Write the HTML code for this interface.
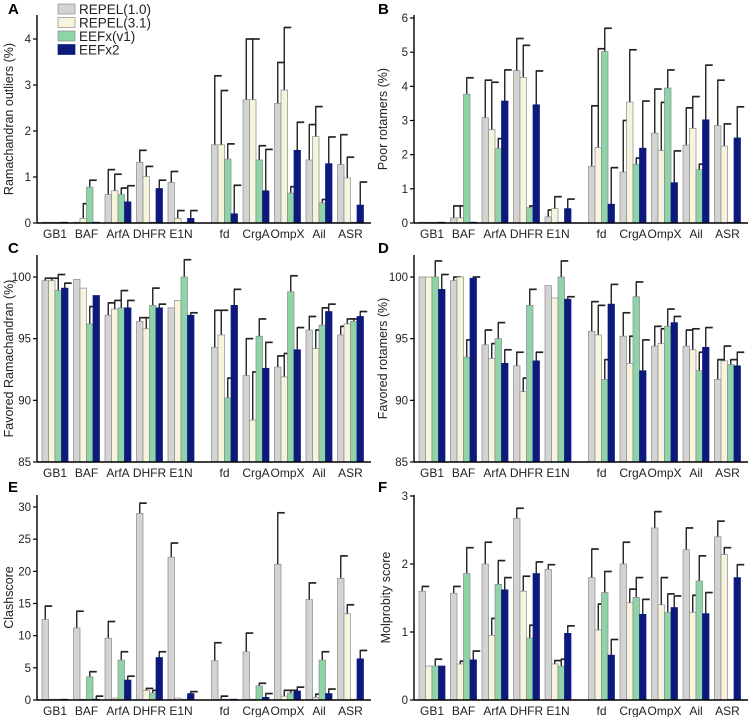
<!DOCTYPE html>
<html><head><meta charset="utf-8"><style>
html,body{margin:0;padding:0;background:#fff;}
svg{display:block;font-family:"Liberation Sans",Arial,sans-serif;}
</style></head><body>
<svg id="chart" width="750" height="717" viewBox="0 0 750 717"></svg>
<script>
const categories = ["GB1","BAF","ArfA","DHFR","E1N","fd","CrgA","OmpX","Ail","ASR"];
const seriesNames = ["REPEL(1.0)","REPEL(3.1)","EEFx(v1)","EEFx2"];
const seriesColors = ["#d3d3d3","#f6f4dc","#8fd3a9","#0d1a7c"];

// Panel A: Ramachandran outliers
const A_rep10 = [0,0,0.62,1.32,0.88,1.7,2.68,2.6,1.37,1.27];
const A_rep10_err = [0,0,1.16,1.58,1.12,3.2,4.0,3.49,2.14,1.92];
const A_rep31 = [0,0.1,0.7,1.01,0.1,1.7,2.68,2.89,1.88,0.98];
const A_rep31_err = [0,0.42,1.06,1.23,0.27,2.88,4.0,4.25,2.53,1.43];
const A_eefx1 = [0,0.78,0.62,0,0,1.39,1.37,0.65,0.44,0];
const A_eefx1_err = [0,0.93,0.76,0,0,1.72,1.68,0.79,0.51,0];
const A_eefx2 = [0,0,0.46,0.75,0.1,0.2,0.7,1.58,1.29,0.39];
const A_eefx2_err = [0,0,0.81,0.93,0.27,0.82,1.6,2.19,1.87,0.89];
const A_ticks = [0,1,2,3,4];

// Panel B: Poor rotamers
const B_rep10 = [0,0.15,3.08,4.46,0.18,1.66,1.49,2.63,2.28,2.85];
const B_rep10_err = [0,0.5,4.18,5.4,0.38,3.43,3.0,3.92,3.37,4.18];
const B_rep31 = [0,0.15,2.73,4.26,0.42,2.21,3.54,2.12,2.77,2.25];
const B_rep31_err = [0,0.5,4.12,5.2,0.77,5.1,5.07,3.53,3.7,2.9];
const B_eefx1 = [0,3.77,2.18,0.45,0,5.02,1.72,3.95,1.56,0];
const B_eefx1_err = [0,4.25,2.47,0.5,0,5.7,1.9,4.48,1.72,0];
const B_eefx2 = [0,0,3.57,3.46,0.42,0.55,2.19,1.18,3.02,2.49];
const B_eefx2_err = [0,0,4.48,4.45,0.7,1.62,3.57,2.11,4.62,3.4];
const B_ticks = [0,1,2,3,4,5,6];

// Panel C: Favored Ramachandran
const C_rep10 = [99.7,99.8,96.9,96.4,97.5,94.3,92.0,92.7,95.7,95.3];
const C_rep10_err = [99.9,99.8,97.9,96.7,97.5,97.3,95.0,93.6,96.8,96.0];
const C_rep31 = [99.7,99.1,97.4,95.8,98.1,95.3,88.4,91.9,94.2,96.2];
const C_rep31_err = [99.9,99.1,98.1,96.7,98.1,97.3,92.3,93.8,95.7,96.6];
const C_eefx1 = [98.9,96.2,97.5,97.7,100,90.2,95.2,98.8,96.1,96.4];
const C_eefx1_err = [100.2,97.6,98.9,99.1,101.4,91.8,96.6,100.1,97.5,96.6];
const C_eefx2 = [99.1,98.5,97.5,97.5,96.9,97.7,92.6,94.1,97.2,96.8];
const C_eefx2_err = [99.5,98.5,98.1,97.8,97.1,99.0,94.7,95.9,97.8,97.2];
const C_ticks = [85,90,95,100];

// Panel D: Favored rotamers
const D_rep10 = [100,99.7,94.5,92.8,99.3,95.6,95.2,94.4,94.4,91.7];
const D_rep10_err = [100,100,95.7,93.9,99.3,98.0,97.1,96.0,95.7,93.3];
const D_rep31 = [100,100,93.4,90.7,98.3,95.3,93.0,94.6,94.1,93.2];
const D_rep31_err = [100,100,94.6,91.8,98.3,97.7,95.2,95.8,95.8,94.4];
const D_eefx1 = [100,93.5,95.0,97.7,100,91.7,98.4,96.0,92.4,92.9];
const D_eefx1_err = [101.3,94.9,96.3,99.0,101.3,93.3,99.6,97.4,93.9,93.3];
const D_eefx2 = [99.0,99.9,93.0,93.2,98.2,97.8,92.4,96.3,94.3,92.8];
const D_eefx2_err = [100.2,100,94.1,93.9,98.4,99.4,94.9,96.8,95.9,93.9];
const D_ticks = [85,90,95,100];

// Panel E: Clashscore
const E_rep10 = [12.5,11.2,9.6,29.0,22.2,6.1,7.5,21.1,15.6,18.9];
const E_rep10_err = [14.6,13.8,12.2,30.6,24.4,8.9,10.4,29.1,18.2,22.4];
const E_rep31 = [0.1,0.1,0.3,1.5,0.3,0.1,0.1,0.6,0.4,13.4];
const E_rep31_err = [0.1,0.1,0.3,1.8,0.3,0.6,0.1,1.5,0.9,14.8];
const E_eefx1 = [0.1,3.6,6.2,1.1,0.1,0.1,2.2,1.1,6.2,0];
const E_eefx1_err = [0.1,4.4,7.5,1.5,0.1,0.1,2.6,1.5,7.5,0];
const E_eefx2 = [0.1,0.1,3.1,6.6,1.0,0.1,0.4,1.4,1.0,6.4];
const E_eefx2_err = [0.1,0.6,3.7,7.5,1.3,0.1,1.0,2.0,1.7,7.7];
const E_ticks = [0,5,10,15,20,25,30];

// Panel F: Molprobity score
const F_rep10 = [1.6,1.57,2.0,2.67,1.92,1.8,2.0,2.53,2.21,2.4];
const F_rep10_err = [1.67,1.67,2.32,2.82,1.99,2.22,2.32,2.77,2.53,2.63];
const F_rep31 = [0.5,0.53,0.95,1.6,0.53,1.03,1.43,1.4,1.29,2.14];
const F_rep31_err = [0.5,0.57,1.2,1.82,0.58,1.41,1.63,1.8,1.54,2.24];
const F_eefx1 = [0.5,1.86,1.7,0.91,0.5,1.58,1.51,1.29,1.75,0];
const F_eefx1_err = [0.6,2.24,2.05,1.1,0.6,1.89,1.8,1.56,2.12,0];
const F_eefx2 = [0.5,0.59,1.62,1.86,0.98,0.66,1.26,1.36,1.27,1.8];
const F_eefx2_err = [0.5,0.72,1.8,2.03,1.09,0.89,1.48,1.53,1.58,1.99];
const F_ticks = [0,1,2,3];

const NS="http://www.w3.org/2000/svg";
const svg=document.getElementById('chart');
function mk(tag,attrs,parent,text){const e=document.createElementNS(NS,tag);for(const k in attrs)e.setAttribute(k,attrs[k]);if(text!==undefined)e.textContent=text;(parent||svg).appendChild(e);return e;}

const panels=[
 {id:"a",letter:"A",lx:8,ly:14,x0:37,yBot:223,yTopTick:39,dMin:0,dMax:4,axTop:15,ticks:A_ticks,title:"Ramachandran outliers (%)",tx:13,vals:[A_rep10,A_rep31,A_eefx1,A_eefx2],errs:[A_rep10_err,A_rep31_err,A_eefx1_err,A_eefx2_err]},
 {id:"b",letter:"B",lx:378,ly:14,x0:414,yBot:223,yTopTick:18,dMin:0,dMax:6,axTop:15,ticks:B_ticks,title:"Poor rotamers (%)",tx:387,vals:[B_rep10,B_rep31,B_eefx1,B_eefx2],errs:[B_rep10_err,B_rep31_err,B_eefx1_err,B_eefx2_err]},
 {id:"c",letter:"C",lx:8,ly:253,x0:37,yBot:462,yTopTick:277,dMin:85,dMax:100,axTop:255,ticks:C_ticks,title:"Favored Ramachandran (%)",tx:13,vals:[C_rep10,C_rep31,C_eefx1,C_eefx2],errs:[C_rep10_err,C_rep31_err,C_eefx1_err,C_eefx2_err]},
 {id:"d",letter:"D",lx:378,ly:253,x0:414,yBot:462,yTopTick:277,dMin:85,dMax:100,axTop:255,ticks:D_ticks,title:"Favored rotamers (%)",tx:387,vals:[D_rep10,D_rep31,D_eefx1,D_eefx2],errs:[D_rep10_err,D_rep31_err,D_eefx1_err,D_eefx2_err]},
 {id:"e",letter:"E",lx:8,ly:492,x0:37,yBot:700,yTopTick:507,dMin:0,dMax:30,axTop:495,ticks:E_ticks,title:"Clashscore",tx:13,vals:[E_rep10,E_rep31,E_eefx1,E_eefx2],errs:[E_rep10_err,E_rep31_err,E_eefx1_err,E_eefx2_err]},
 {id:"f",letter:"F",lx:378,ly:492,x0:414,yBot:700,yTopTick:496,dMin:0,dMax:3,axTop:495,ticks:F_ticks,title:"Molprobity score",tx:390,vals:[F_rep10,F_rep31,F_eefx1,F_eefx2],errs:[F_rep10_err,F_rep31_err,F_eefx1_err,F_eefx2_err]}
];

panels.forEach(p=>{
 const g=mk('g',{});
 
 
 const y=v=>p.yBot-(v-p.dMin)*(p.yBot-p.yTopTick)/(p.dMax-p.dMin);
 const xc=i=>p.x0+18+i*31.5+(i>=5?12:0);
 const bw=6.5;
 const lt=mk('text',{x:p.lx,y:p.ly,'font-size':15,'font-weight':'bold',fill:'#000'},g,p.letter);
 
 
 for(let s=0;s<4;s++){
  for(let i=0;i<categories.length;i++){
   const v=p.vals[s][i], e=p.errs[s][i];
   const bx=xc(i)-13+s*bw;
   const top=y(v);
   if(e>v){
    const ln=mk('line',{x1:bx+bw/2,x2:bx+bw/2,y1:top,y2:y(e),stroke:'#222','stroke-width':1.4},g);
    
    
    const cap=mk('line',{x1:bx+bw/2-0.5,x2:bx+bw/2+7,y1:y(e),y2:y(e),stroke:'#222','stroke-width':1.7},g);
    
    
   }
   const r=mk('rect',{x:bx,y:Math.min(top,p.yBot-0.8),width:bw,height:Math.max(p.yBot-top,0.8),fill:seriesColors[s],stroke:s==3?'#0d1a7c':'#8a8a8a','stroke-width':0.7},g);
   
   
  }
 }
 const ya=mk('line',{x1:p.x0,x2:p.x0,y1:p.axTop,y2:p.yBot,stroke:'#000','stroke-width':1.4},g);
 
 
 const xa=mk('line',{x1:p.x0,x2:p.x0+334,y1:p.yBot,y2:p.yBot,stroke:'#000','stroke-width':1.4},g);
 
 
 p.ticks.forEach(t=>{
  const tk=mk('line',{x1:p.x0-4,x2:p.x0,y1:y(t),y2:y(t),stroke:'#000','stroke-width':1.2},g);
  
  
  const tl=mk('text',{x:p.x0-6,y:y(t)+4,'font-size':11.5,'text-anchor':'end',fill:'#222'},g,String(t));
  
  
 });
 categories.forEach((c,i)=>{
  const xl=mk('text',{x:xc(i),y:p.yBot+15,'font-size':12,'text-anchor':'middle',fill:'#222'},g,c);
  
  
 });
 const cy=(p.axTop+p.yBot)/2;
 const yt=mk('text',{x:p.tx,y:cy,'font-size':12.5,'text-anchor':'middle',fill:'#222',transform:'rotate(-90 '+p.tx+' '+cy+')'},g,p.title);
 
 
});

const lg=mk('g',{});


seriesNames.forEach((n,k)=>{
 const yy=4+k*13.5;
 const sw=mk('rect',{x:58,y:yy,width:17,height:10,fill:seriesColors[k],stroke:k==3?'#0d1a7c':'#8a8a8a','stroke-width':0.7},lg);
 
 
 const tx=mk('text',{x:79,y:yy+10,'font-size':13.5,fill:'#222'},lg,n);
 
 
});
</script>
</body></html>
